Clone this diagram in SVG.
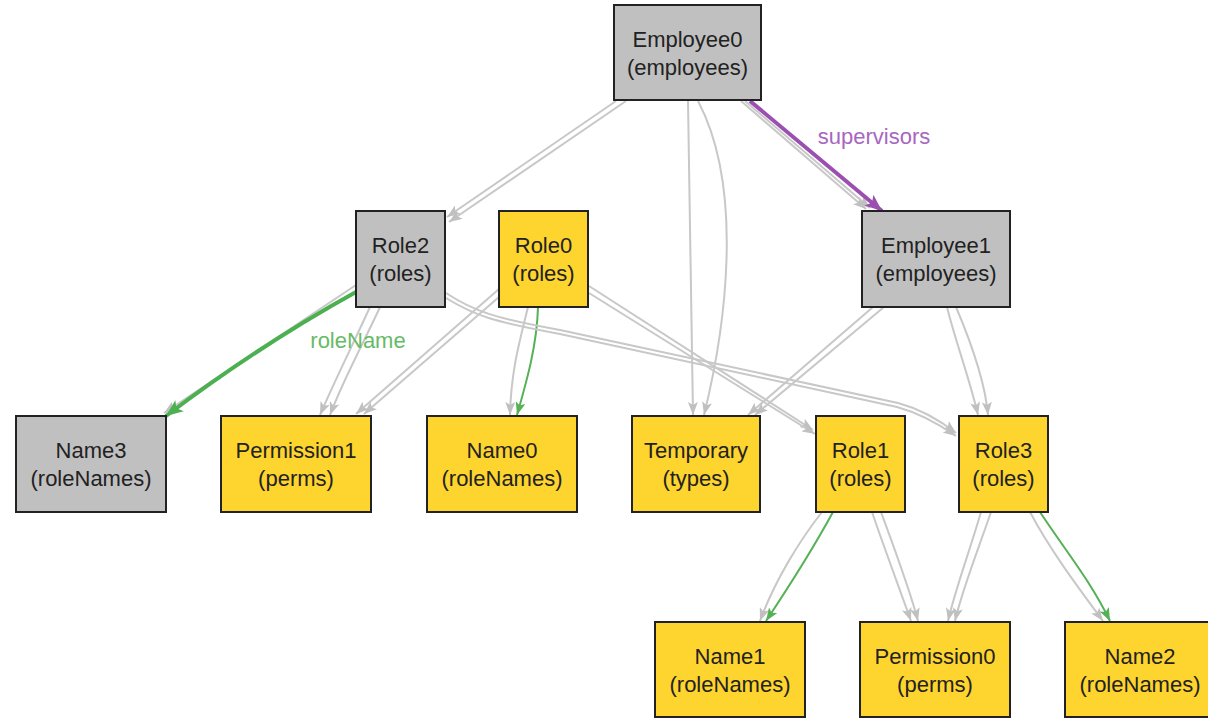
<svg xmlns="http://www.w3.org/2000/svg" width="1208" height="719" viewBox="0 0 1208 719">
<style>
.n rect{stroke:#222;stroke-width:2}
.g rect{fill:#c0c0c0}
.y rect{fill:#fed42e}
.n text{font-family:"Liberation Sans",Arial,sans-serif;font-size:22px;fill:#222;text-anchor:middle}
.e{fill:none;stroke:#c8c8c8;stroke-width:2}
.gt{fill:none;stroke:#55b155;stroke-width:2}
.gT{fill:none;stroke:#4caf50;stroke-width:4}
.pT{fill:none;stroke:#9b4fb0;stroke-width:4}
.lbl{font-family:"Liberation Sans",Arial,sans-serif;font-size:22px}
</style>
<defs>
<marker id="ag" markerUnits="userSpaceOnUse" markerWidth="14" markerHeight="10" refX="13" refY="5" orient="auto"><path d="M0,0 L13,5 L0,10 L3,5 z" fill="#c0c0c0"/></marker>
<marker id="agr" markerUnits="userSpaceOnUse" markerWidth="14" markerHeight="10" refX="13" refY="5" orient="auto"><path d="M0,0 L13,5 L0,10 L3,5 z" fill="#55b155"/></marker>
<marker id="agR" markerUnits="userSpaceOnUse" markerWidth="18" markerHeight="14" refX="17" refY="7" orient="auto"><path d="M0,0 L17,7 L0,14 L4,7 z" fill="#4caf50"/></marker>
<marker id="apR" markerUnits="userSpaceOnUse" markerWidth="18" markerHeight="14" refX="17" refY="7" orient="auto"><path d="M0,0 L17,7 L0,14 L4,7 z" fill="#9b4fb0"/></marker>
</defs>
<rect width="1208" height="719" fill="#fff"/>
<g id="edges">
<path class="e" d="M616,101 L447,217" marker-end="url(#ag)"/>
<path class="e" d="M626,101 L449,222" marker-end="url(#ag)"/>
<path class="e" d="M688,101 C689,200 692,300 693,415" marker-end="url(#ag)"/>
<path class="e" d="M698,101 C745,190 725,330 704,415" marker-end="url(#ag)"/>
<path class="e" d="M741,101 L866,209" marker-end="url(#ag)"/>
<path class="e" d="M745,101 L870,208" marker-end="url(#ag)"/>
<path class="pT" d="M750,101 L882,211" marker-end="url(#apR)"/>
<path class="e" d="M356,285 L164,413" marker-end="url(#ag)"/>
<path class="gT" d="M356,292 Q260,345 166,416" marker-end="url(#agR)"/>
<path class="e" d="M370,307 C355,340 335,380 320,415" marker-end="url(#ag)"/>
<path class="e" d="M380,307 C365,340 343,380 330,415" marker-end="url(#ag)"/>
<path class="e" d="M499,289 L356,414" marker-end="url(#ag)"/>
<path class="e" d="M499,297 L364,414" marker-end="url(#ag)"/>
<path class="e" d="M528,307 C520,340 511,370 510,415" marker-end="url(#ag)"/>
<path class="gt" d="M538,307 C537,345 527,380 517,415" marker-end="url(#agr)"/>
<path class="e" d="M589,286 L813,430" marker-end="url(#ag)"/>
<path class="e" d="M589,293 L815,434" marker-end="url(#ag)"/>
<path class="e" d="M446,293 C475,312 495,318 560,330 L898,403 Q928,411 956,433" marker-end="url(#ag)"/>
<path class="e" d="M446,298 C475,316 495,322 560,334 L897,407 Q926,415 956,436" marker-end="url(#ag)"/>
<path class="e" d="M873,307 L748,415" marker-end="url(#ag)"/>
<path class="e" d="M884,307 L755,415" marker-end="url(#ag)"/>
<path class="e" d="M947,307 C955,340 970,380 978,415" marker-end="url(#ag)"/>
<path class="e" d="M956,307 C970,340 985,380 988,415" marker-end="url(#ag)"/>
<path class="e" d="M822,512 C800,540 775,580 760,621" marker-end="url(#ag)"/>
<path class="gt" d="M833,512 C815,545 790,585 766,621" marker-end="url(#agr)"/>
<path class="e" d="M872,512 C885,550 900,590 911,621" marker-end="url(#ag)"/>
<path class="e" d="M881,512 C895,550 910,590 918,621" marker-end="url(#ag)"/>
<path class="e" d="M981,512 C970,550 955,590 948,621" marker-end="url(#ag)"/>
<path class="e" d="M991,512 C978,550 962,590 955,621" marker-end="url(#ag)"/>
<path class="e" d="M1030,512 C1050,550 1080,590 1103,621" marker-end="url(#ag)"/>
<path class="gt" d="M1040,512 C1065,550 1090,580 1110,621" marker-end="url(#agr)"/>
<text class="lbl" x="874" y="144" fill="#a866c0" text-anchor="middle">supervisors</text>
<text class="lbl" x="358" y="348" fill="#66bb66" text-anchor="middle">roleName</text>
</g>
<g id="emp0" class="n g"><rect x="614" y="5" width="147" height="95"/><text x="687.5" y="47">Employee0</text><text x="687.5" y="75">(employees)</text></g>
<g id="role2" class="n g"><rect x="356" y="211" width="89" height="96"/><text x="400.5" y="253">Role2</text><text x="400.5" y="281">(roles)</text></g>
<g id="role0" class="n y"><rect x="499" y="211" width="89" height="96"/><text x="543.5" y="253">Role0</text><text x="543.5" y="281">(roles)</text></g>
<g id="emp1" class="n g"><rect x="862" y="211" width="148" height="96"/><text x="936" y="253">Employee1</text><text x="936" y="281">(employees)</text></g>
<g id="name3" class="n g"><rect x="16" y="416" width="150" height="96"/><text x="91" y="458">Name3</text><text x="91" y="486">(roleNames)</text></g>
<g id="perm1" class="n y"><rect x="221" y="416" width="150" height="96"/><text x="296" y="458">Permission1</text><text x="296" y="486">(perms)</text></g>
<g id="name0" class="n y"><rect x="427" y="416" width="150" height="96"/><text x="502" y="458">Name0</text><text x="502" y="486">(roleNames)</text></g>
<g id="temporary" class="n y"><rect x="632" y="416" width="128" height="96"/><text x="696" y="458">Temporary</text><text x="696" y="486">(types)</text></g>
<g id="role1" class="n y"><rect x="816" y="416" width="89" height="96"/><text x="860.5" y="458">Role1</text><text x="860.5" y="486">(roles)</text></g>
<g id="role3" class="n y"><rect x="959" y="416" width="89" height="96"/><text x="1003.5" y="458">Role3</text><text x="1003.5" y="486">(roles)</text></g>
<g id="name1" class="n y"><rect x="655" y="622" width="150" height="95"/><text x="730" y="664">Name1</text><text x="730" y="692">(roleNames)</text></g>
<g id="perm0" class="n y"><rect x="860" y="622" width="150" height="95"/><text x="935" y="664">Permission0</text><text x="935" y="692">(perms)</text></g>
<g id="name2" class="n y"><rect x="1065" y="622" width="150" height="95"/><text x="1140" y="664">Name2</text><text x="1140" y="692">(roleNames)</text></g>
</svg>
